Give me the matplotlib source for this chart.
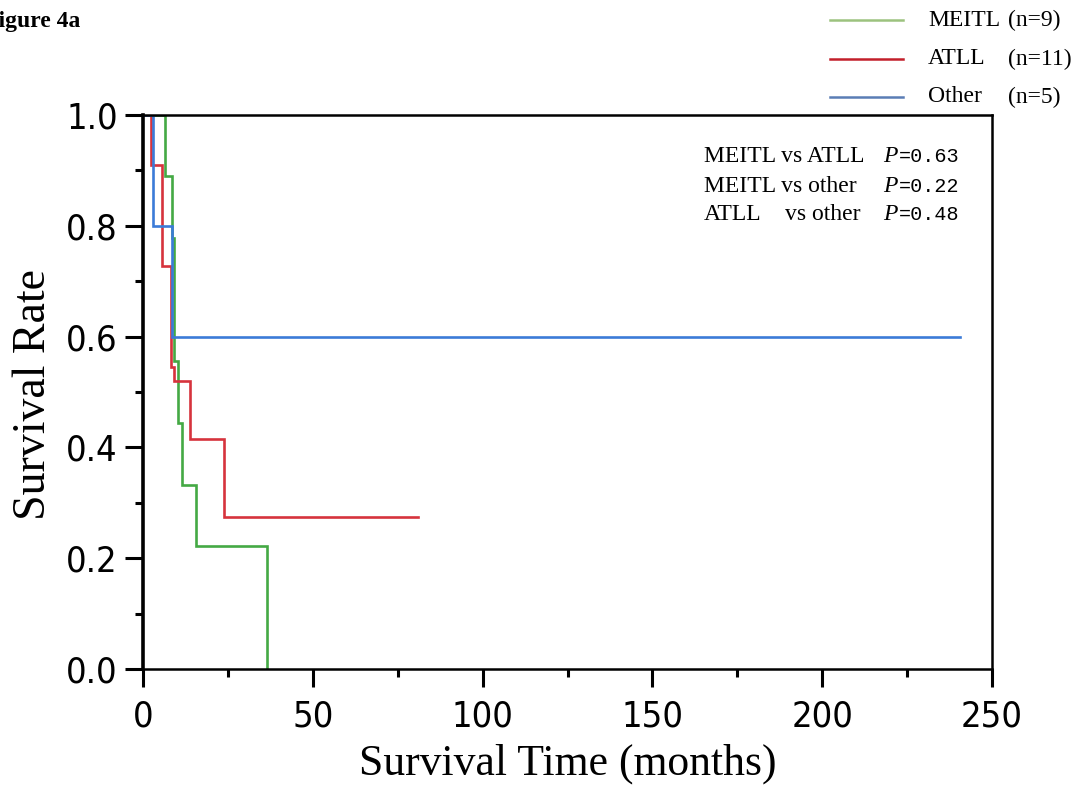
import matplotlib
matplotlib.use("Agg")
import matplotlib.pyplot as plt
from matplotlib.lines import Line2D
from matplotlib.ticker import MultipleLocator
from matplotlib import font_manager as fm

# ---------------- data ----------------
groups = ["MEITL", "ATLL", "Other"]
group_n = ["(n=9)", "(n=11)", "(n=5)"]

meitl_time = [0, 6.5, 8.4, 9.1, 10.2, 11.6, 15.6, 36.4]
meitl_surv = [1.0, 0.889, 0.778, 0.556, 0.444, 0.333, 0.222, 0.0]

atll_time = [0, 2.3, 5.7, 8.3, 9.0, 13.8, 23.9, 81.0]
atll_surv = [1.0, 0.909, 0.727, 0.545, 0.520, 0.415, 0.275, 0.275]

other_time = [0, 2.9, 8.4, 240.5]
other_surv = [1.0, 0.800, 0.600, 0.600]

comparisons = ["MEITL vs ATLL", "MEITL vs other", "ATLL"]
comparisons_b = ["", "", "vs other"]
p_values = ["0.63", "0.22", "0.48"]

x_ticks = [0, 50, 100, 150, 200, 250]
y_ticks = [0.0, 0.2, 0.4, 0.6, 0.8, 1.0]

curve_colors = ["#44a944", "#d6333d", "#3b7bd8"]
legend_colors = ["#9cc27e", "#c21f2a", "#5a7db5"]

# tick font: prefer a condensed DejaVu if present
tick_font = fm.FontProperties(family="DejaVu Sans", size=26, stretch="condensed")
try:
    path = fm.findfont(tick_font, fallback_to_default=False)
    if "Condensed" not in path:
        tick_font = fm.FontProperties(family="DejaVu Sans", size=24)
except Exception:
    tick_font = fm.FontProperties(family="DejaVu Sans", size=24)

# ---------------- figure ----------------
W, H = 1083, 801
fig = plt.figure(figsize=(W / 100, H / 100), dpi=100)
ax = fig.add_axes([143 / W, 1 - 669 / H, (992 - 143) / W, (669 - 115) / H])

series = [(meitl_time, meitl_surv), (atll_time, atll_surv), (other_time, other_surv)]
for (t, s), c in zip(series, curve_colors):
    ax.step(t, s, where="post", color=c, lw=1.9, solid_joinstyle="miter")

ax.set_xlim(0, 250)
ax.set_ylim(0, 1.0)
ax.set_xticks(x_ticks)
ax.set_yticks(y_ticks)
ax.set_xticklabels([str(v) for v in x_ticks])
ax.set_yticklabels([f"{v:.1f}" for v in y_ticks])
ax.xaxis.set_minor_locator(MultipleLocator(25))
ax.yaxis.set_minor_locator(MultipleLocator(0.1))

ax.tick_params(axis="both", which="major", direction="out", length=13, width=2.2,
               color="black")
ax.tick_params(axis="both", which="minor", direction="out", length=6, width=2.2)
ax.tick_params(axis="x", which="major", pad=9)
ax.tick_params(axis="y", which="major", pad=5)
for lab in ax.get_xticklabels() + ax.get_yticklabels():
    lab.set_fontproperties(tick_font)

ax.spines["left"].set_linewidth(2.6)
ax.spines["bottom"].set_linewidth(1.8)
ax.spines["top"].set_linewidth(1.8)
ax.spines["right"].set_linewidth(1.8)

serif = "Liberation Serif"
ax.set_xlabel("Survival Time (months)", fontsize=31.5, family=serif, labelpad=7)
fig.text(34 / W, 1 - 395 / H, "Survival Rate", fontsize=33, family=serif,
         rotation=90, ha="center", va="center")

# title (partly cut at left edge as in reference)
fig.text(-16 / W, 1 - 21 / H, "Figure 4a", fontsize=17, family=serif,
         fontweight="bold", ha="left", va="center")

# legend drawn manually
leg_y = [20, 59, 97]
for i, (g, n) in enumerate(zip(groups, group_n)):
    yy = 1 - leg_y[i] / H
    fig.add_artist(Line2D([830 / W, 903 / W], [yy, yy], color=legend_colors[i],
                          lw=1.8, transform=fig.transFigure))
    fig.text(928 / W, yy, g, fontsize=17, family=serif, ha="left", va="center")
    fig.text(1008 / W, yy, n, fontsize=17, family=serif, ha="left", va="center")

# p-value annotations
ann_y = [157, 186, 214]
for i in range(3):
    yy = 1 - ann_y[i] / H
    fig.text(704 / W, yy, comparisons[i], fontsize=17, family=serif, ha="left", va="center")
    if comparisons_b[i]:
        fig.text(785 / W, yy, comparisons_b[i], fontsize=17, family=serif,
                 ha="left", va="center")
    fig.text(883 / W, yy, "P", fontsize=17, family=serif, style="italic",
             ha="left", va="center")
    fig.text(899 / W, yy, "=" + p_values[i], fontsize=14.5, family="Liberation Mono",
             ha="left", va="center")

fig.savefig("out.png", dpi=100)
